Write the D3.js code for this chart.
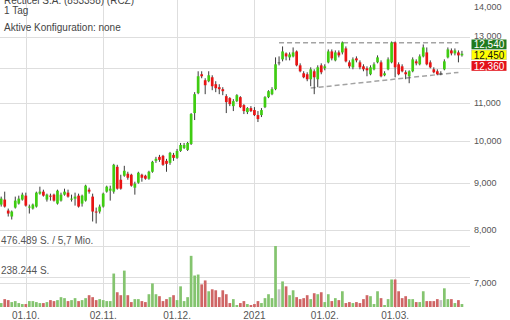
<!DOCTYPE html>
<html><head><meta charset="utf-8">
<script src="https://cdn.jsdelivr.net/npm/d3@7"></script>
<style>
html,body{margin:0;padding:0;background:#fff;overflow:hidden}
svg{display:block;font-family:"Liberation Sans",Arial,sans-serif}
</style></head><body>
<svg id="c" width="510" height="320"></svg>
<script>
// ---------- data ----------
const titleLines = ["Recticel S.A. (853358) (RCZ)", "1 Tag", "Aktive Konfiguration: none"];
const startDate = "2020-09-22", endDate = "2021-03-26";
const holidays = ["2020-12-25", "2021-01-01"];
const xTickDates = ["2020-10-01","2020-11-02","2020-12-01","2021-01-04","2021-02-01","2021-03-01"];
const xTickLabels = ["01.10.","02.11.","01.12.","2021","01.02.","01.03."];
const priceGrid = [13000,12000,11000,10000,9000,8000,7000];
const priceLabels = [14000,13000,11000,10000,9000,8000,7000];
const volTicks = [476489, 238244];
const volTickLabels = ["476.489 S. / 5,7 Mio.","238.244 S."];
const tagValues = [12540, 12450, 12360];
const trendUpper = [["2021-01-13",12800],["2021-03-25",12800]];
const trendLower = [["2021-01-26",11420],["2021-03-25",11880]];

const opens = [8524,8631,8397,8272,8460,8545,8631,8717,8460,8439,8481,8761,8805,8631,8717,8739,8545,8609,8739,8783,8631,8652,8717,8545,8609,8849,8696,8376,8376,8481,8805,8827,
8805,9372,9073,9164,9210,9187,8893,9005,9187,9164,9096,9256,9513,9609,9633,9513,9466,9657,9585,9753,9827,9778,9925,10726,11276,11824,11648,11619,11735,11532,11446,11389,11191,11136,10915,11052,11163,10942,10753,10861,10807,10672,10672,10888,11163,11247,11389,12183,12275,12460,12336,12367,12522,12092,11853,11824,11677,11913,11677,12092,12002,12183,12522,12244,12491,12491,12617,12183,12032,12305,12183,12062,12002,11824,11972,12183,12183,11794,11972,12183,12807,12123,12062,11883,11765,11913,12214,12123,12367,12491,12183,11972,11913,11853,11972,12336,12554,12460,12491,12400];
const highs = [8696,8805,8439,8397,8696,8717,8783,8783,8524,8545,8805,8916,8849,8761,8761,8761,8849,8783,8871,8849,8739,8783,8761,8739,8960,8893,8761,8460,8524,8783,8938,8938,
9442,9419,9187,9395,9256,9210,9028,9256,9210,9187,9279,9513,9609,9657,9657,9561,9729,9705,9802,9950,9950,9975,10726,11304,11913,11913,11706,11913,11794,11619,11532,11446,11247,11163,11108,11247,11191,10970,10888,10915,10888,10780,10861,11191,11360,11446,12336,12367,12680,12491,12491,12648,12554,12153,11913,11883,12032,11972,12092,12153,12123,12585,12585,12554,12554,12839,12680,12244,12336,12367,12244,12123,12062,12092,12183,12398,12244,11913,12336,12839,12839,12183,12123,11942,11942,12336,12275,12429,12743,12648,12244,12032,11972,11913,12275,12648,12617,12617,12554,12540];
const lows = [8481,8460,8272,8210,8439,8524,8609,8481,8334,8418,8460,8739,8696,8588,8609,8588,8524,8588,8717,8674,8588,8502,8460,8481,8588,8761,8169,8129,8334,8460,8783,8609,
8761,8849,8849,9141,9073,8916,8739,8983,9028,9073,9073,9233,9466,9490,9395,9256,9419,9513,9561,9729,9802,9753,9900,10540,11247,11706,11247,11590,11360,11304,11247,11219,10726,10915,10780,11025,10861,10699,10699,10753,10646,10487,10619,10861,11136,11219,11360,12092,12214,12244,12244,12336,12062,11883,11706,11619,11474,11247,11446,11824,11942,12153,12244,12214,12336,12429,12183,12002,11972,12183,11972,11913,11765,11794,11942,12153,11735,11765,11942,12153,11735,11794,11883,11677,11561,11883,12092,12092,12336,12092,12002,11853,11794,11794,11942,12305,12398,12398,12183,12360];
const closes = [8652,8481,8334,8376,8609,8652,8739,8502,8481,8524,8783,8805,8717,8739,8696,8609,8827,8739,8805,8696,8652,8696,8481,8717,8938,8805,8376,8355,8481,8761,8916,8871,
9419,8871,8871,9279,9118,8938,8983,9233,9118,9096,9256,9490,9561,9537,9419,9442,9705,9585,9753,9900,9900,9950,10699,11247,11765,11765,11503,11794,11474,11417,11389,11332,11025,10970,11052,11219,10888,10780,10861,10780,10672,10566,10807,11163,11332,11389,12123,12183,12522,12367,12429,12491,12092,11913,11735,11677,11972,11735,12032,11883,12062,12522,12305,12491,12398,12807,12214,12062,12275,12244,12032,11972,11942,12032,12123,12336,11765,11853,12275,12807,12032,11824,11913,11824,11913,12275,12153,12367,12648,12123,12032,11883,11824,11853,12214,12585,12460,12554,12398,12450];
const volumes = [30700,61500,53800,38400,46100,30700,23100,23100,46100,46100,38400,30700,30700,38400,53800,46100,53800,76900,69200,46100,53800,69200,46100,53800,69200,92200,76900,53800,61500,53800,46100,46100,
261300,115300,92200,284300,92200,38400,61500,61500,46100,38400,99900,184400,99900,84500,46100,61500,76900,
92200,53800,161400,46100,76900,399600,245900,253600,176800,207500,123000,138300,130600,76900,130600,99900,30700,61500,15400,30700,46100,23100,15400,23100,46100,30700,69200,99900,69200,476500,138300,199800,161400,92200,130600,76900,61500,69200,92200,61500,107600,99900,115300,38400,99900,46100,69200,53800,
123000,30700,38400,30700,38400,30700,61500,92200,84500,23100,123000,69200,15400,61500,215200,215200,123000,69200,84500,61500,61500,38400,38400,123000,46100,46100,46100,61500,53800,146000,61500,61500,30700,53800,23100];

// ---------- build ----------
const parse = d3.timeParse("%Y-%m-%d"), fmt = d3.timeFormat("%Y-%m-%d");
const dates = d3.timeDay.range(parse(startDate), d3.timeDay.offset(parse(endDate), 1))
  .filter(d => d.getDay() !== 0 && d.getDay() !== 6 && !holidays.includes(fmt(d)))
  .map(fmt);
const data = dates.map((d, i) => ({date: d, o: opens[i], h: highs[i], l: lows[i], c: closes[i], v: volumes[i]}));

const svg = d3.select("#c");
const x = d3.scaleBand().domain(dates).range([-0.56, 463.7]).padding(0);
const bw = x.bandwidth();
const cx = d => x(d) + bw / 2;
const y = d3.scaleLog().domain([7000, 14000]).range([283, 7]);
const yv = d3.scaleLinear().domain([0, 476489]).range([307, 246]);
const plotRight = 470;

const grid = svg.append("g").attr("stroke", "#dedede").attr("stroke-width", 1);
grid.selectAll(".hp").data(priceGrid).join("line")
  .attr("x1", 0).attr("x2", plotRight).attr("y1", d => Math.round(y(d)) + 0.5).attr("y2", d => Math.round(y(d)) + 0.5);
grid.selectAll(".hv").data(volTicks).join("line")
  .attr("x1", 0).attr("x2", plotRight).attr("y1", d => Math.round(yv(d)) + 0.5).attr("y2", d => Math.round(yv(d)) + 0.5);
grid.selectAll(".vx").data(xTickDates).join("line")
  .attr("x1", d => Math.round(cx(d)) + 0.5).attr("x2", d => Math.round(cx(d)) + 0.5).attr("y1", 0).attr("y2", 308);

// volume bars
const volColor = d => d.c > d.o ? "#84c46f" : d.c < d.o ? "#cf6565" : "#c4c4c4";
svg.append("g").selectAll("rect").data(data).join("rect")
  .attr("x", d => cx(d.date) - 1.35).attr("width", 2.7)
  .attr("y", d => yv(d.v)).attr("height", d => yv(0) - yv(d.v))
  .attr("fill", volColor);

// trend lines
const lineGen = d3.line().x(d => cx(d[0])).y(d => y(d[1]));
[trendUpper, trendLower].forEach(t => {
  svg.append("path").attr("d", lineGen(t)).attr("fill", "none")
    .attr("stroke", "#a3a3a3").attr("stroke-width", 1.5).attr("stroke-dasharray", "5,3");
});

// candles
const cg = svg.append("g");
cg.selectAll("line").data(data).join("line")
  .attr("x1", d => cx(d.date)).attr("x2", d => cx(d.date))
  .attr("y1", d => y(d.h)).attr("y2", d => y(d.l))
  .attr("stroke", "#3a3a3a").attr("stroke-width", 1);
cg.selectAll("rect").data(data).join("rect")
  .attr("x", d => cx(d.date) - 1.35).attr("width", 2.7)
  .attr("y", d => y(Math.max(d.o, d.c)))
  .attr("height", d => Math.max(1, Math.abs(y(d.o) - y(d.c))))
  .attr("fill", d => d.c > d.o ? "#3fcc12" : d.c < d.o ? "#e81414" : "#555");

// price axis labels
svg.append("g").selectAll("text").data(priceLabels).join("text")
  .attr("x", 474).attr("y", d => y(d) + 2.8)
  .attr("font-size", 9).attr("fill", "#555")
  .text(d => d3.format(",")(d));

// tags
const tagStyle = [{bg: "#1f7a1f", fg: "#fff"}, {bg: "#ffff00", fg: "#111"}, {bg: "#e3121a", fg: "#fff"}];
const tagTop = [39.5, 50, 61];
const tg = svg.append("g");
tagValues.forEach((v, i) => {
  tg.append("rect").attr("x", 471.5).attr("y", tagTop[i]).attr("width", 35).attr("height", 9.8)
    .attr("fill", tagStyle[i].bg).attr("stroke", i === 1 ? "#bbb" : "none").attr("stroke-width", 0.5);
  tg.append("text").attr("x", 489).attr("y", tagTop[i] + 8.5).attr("text-anchor", "middle")
    .attr("font-size", 10).attr("fill", tagStyle[i].fg).text(d3.format(",")(v));
});

// volume labels
svg.append("g").selectAll("text").data(volTickLabels).join("text")
  .attr("x", 1).attr("y", (d, i) => yv(volTicks[i]) - 2.5)
  .attr("font-size", 10).attr("fill", "#555").text(d => d);

// x labels
svg.append("g").selectAll("text").data(xTickDates).join("text")
  .attr("x", d => cx(d)).attr("y", 318.5).attr("text-anchor", "middle")
  .attr("font-size", 10).attr("fill", "#555")
  .text((d, i) => xTickLabels[i]);

// title
const tY = [3.5, 14, 31];
svg.append("g").selectAll("text").data(titleLines).join("text")
  .attr("x", 4).attr("y", (d, i) => tY[i]).attr("font-size", 10).attr("fill", "#444").text(d => d);
</script>
</body></html>
